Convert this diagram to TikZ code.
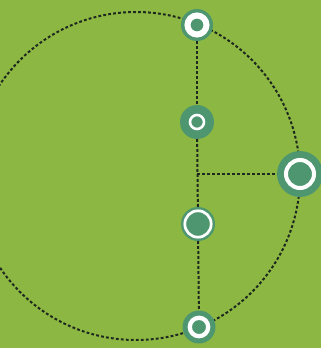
\documentclass[tikz,border=0pt]{standalone}
\definecolor{bg}{RGB}{139,183,66}
\definecolor{teal}{RGB}{78,150,112}
\definecolor{dashc}{RGB}{30,40,30}
\tikzset{
  ringdot/.style={circle, fill=teal, inner sep=0pt, outer sep=0pt, minimum size=#1},
  ring/.style={draw=white, line width=#1},
  link/.style={draw=dashc, line width=2pt, dash pattern=on 2.8pt off 2.2pt}
}
\begin{document}
\begin{tikzpicture}[x=1pt,y=-1pt]
\fill[bg] (0,0) rectangle (321,348);
\useasboundingbox (0,0) rectangle (321,348);
\coordinate (c) at (136,176);
\draw[link] (c) circle (164);
\coordinate (j) at (197,174);
\node[ringdot=32pt] (t) at (197,25) {};
\node[ringdot=34pt] (m) at (197,122) {};
\node[ringdot=46pt] (r) at (300,174) {};
\node[ringdot=34pt] (l) at (198,224) {};
\node[ringdot=33pt] (b) at (199,327) {};
\draw[ring=6pt] (t.center) circle (9.5);
\draw[ring=2.6pt] (m.center) circle (7);
\draw[ring=4pt] (r.center) circle (14);
\draw[ring=2.7pt] (l.center) circle (13.2);
\draw[ring=4.3pt] (b.center) circle (9.2);
\draw[link] (t) -- (m);
\draw[link] (m) -- (l);
\draw[link] (l) -- (b);
\draw[link] (j) -- (r);
\end{tikzpicture}
\end{document}
